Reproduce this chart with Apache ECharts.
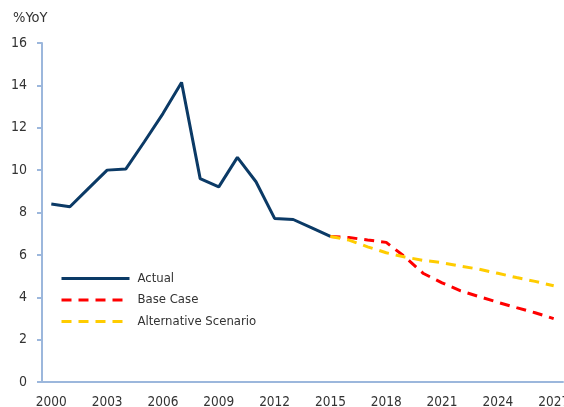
<!DOCTYPE html>
<html>
<head>
<meta charset="utf-8">
<script src="https://cdn.jsdelivr.net/npm/echarts@6/dist/echarts.min.js"></script>
<style>
  html, body { margin: 0; padding: 0; background: #fff; }
  #chart { width: 564px; height: 407px; }
</style>
</head>
<body>
<div id="chart"></div>
<script>
// Years on the horizontal axis
const years = [];
for (let y = 2000; y <= 2027; y++) years.push(String(y));

// Historical growth, % year on year
const actual = [8.40, 8.27, 9.14, 10.0, 10.05, 11.34, 12.67, 14.14, 9.60, 9.21,
                10.6, 9.45, 7.72, 7.67, 7.27, 6.87];

// Projections starting from the last actual value (2015)
const baseCase = [6.87, 6.82, 6.70, 6.59, 5.91, 5.12, 4.68, 4.30, 4.03, 3.76, 3.51, 3.27, 2.99];
const altScenario = [6.87, 6.70, 6.38, 6.10, 5.90, 5.74, 5.63, 5.47, 5.32, 5.13, 4.93, 4.75, 4.54];

const yTicks = { min: 0, max: 16, interval: 2 };

function pad(arr, startIndex) {
  const out = new Array(years.length).fill(null);
  arr.forEach((v, i) => { out[startIndex + i] = v; });
  return out;
}

const fontFamily = '"Liberation Sans Narrow", "DejaVu Sans Condensed", "Liberation Sans", sans-serif';
const axisColor = '#9cb7dc';
const textColor = '#333333';
const dashPattern = [10, 7];

const chart = echarts.init(document.getElementById('chart'), null, { renderer: 'canvas' });
chart.setOption({
  animation: false,
  textStyle: { fontFamily: fontFamily },
  title: {
    text: '%YoY',
    left: 13, top: 11, padding: 0,
    textStyle: { fontFamily: fontFamily, fontSize: 14.5, fontWeight: 'normal', color: textColor }
  },
  grid: { left: 42, right: 1, top: 43, bottom: 25, containLabel: false, outerBoundsMode: 'none' },
  legend: {
    orient: 'vertical',
    left: 60, top: 272, padding: 0,
    itemWidth: 68, itemHeight: 14, itemGap: 8.5,
    // hide the marker dot so only the line sample shows
    itemStyle: { opacity: 0 },
    textStyle: { fontFamily: fontFamily, fontSize: 13, color: textColor, padding: [0, 0, 0, 3] },
    data: [
      { name: 'Actual', lineStyle: { width: 3, type: 'solid' } },
      { name: 'Base Case', lineStyle: { width: 3, type: dashPattern } },
      { name: 'Alternative Scenario', lineStyle: { width: 3, type: dashPattern } }
    ]
  },
  xAxis: {
    type: 'category',
    data: years,
    boundaryGap: true,
    axisLine: { lineStyle: { color: axisColor, width: 2 } },
    axisTick: { show: false },
    axisLabel: { interval: 2, color: textColor, fontSize: 13.5, margin: 13, fontFamily: fontFamily },
    splitLine: { show: false }
  },
  yAxis: {
    type: 'value',
    min: yTicks.min, max: yTicks.max, interval: yTicks.interval,
    axisLine: { show: true, lineStyle: { color: axisColor, width: 2 } },
    axisTick: { show: true, length: 5, lineStyle: { color: axisColor, width: 2 } },
    axisLabel: { color: textColor, fontSize: 14, margin: 15, fontFamily: fontFamily },
    splitLine: { show: false }
  },
  series: [
    {
      name: 'Actual', type: 'line', data: pad(actual, 0),
      symbol: 'none', connectNulls: false,
      lineStyle: { color: '#0b3a66', width: 3 },
      itemStyle: { color: '#0b3a66' }, z: 3
    },
    {
      name: 'Base Case', type: 'line', data: pad(baseCase, 15),
      symbol: 'none',
      lineStyle: { color: '#ff0000', width: 3, type: dashPattern },
      itemStyle: { color: '#ff0000' }, z: 4
    },
    {
      name: 'Alternative Scenario', type: 'line', data: pad(altScenario, 15),
      symbol: 'none',
      lineStyle: { color: '#ffcc00', width: 3, type: dashPattern },
      itemStyle: { color: '#ffcc00' }, z: 5
    }
  ]
});
</script>
</body>
</html>
